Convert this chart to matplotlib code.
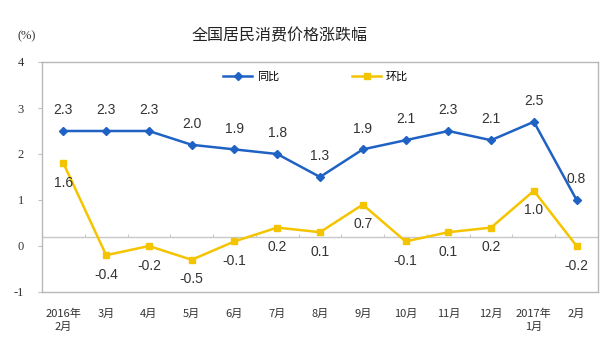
import numpy as np
import matplotlib
matplotlib.use("Agg")
import matplotlib.pyplot as plt

plt.rcParams['font.family'] = ['Noto Sans CJK SC', 'DejaVu Sans']

categories = ["2016年\n2月", "3月", "4月", "5月", "6月", "7月", "8月", "9月",
              "10月", "11月", "12月", "2017年\n1月", "2月"]
yoy = [2.3, 2.3, 2.3, 2.0, 1.9, 1.8, 1.3, 1.9, 2.1, 2.3, 2.1, 2.5, 0.8]
mom = [1.6, -0.4, -0.2, -0.5, -0.1, 0.2, 0.1, 0.7, -0.1, 0.1, 0.2, 1.0, -0.2]
ytick_labels = ["-1", "0", "1", "2", "3", "4"]

blue = '#1F62C4'
yellow = '#F5C400'

fig = plt.figure(figsize=(6.10, 3.54), dpi=100)
ax = fig.add_axes([42/610, (354-292)/354, (598-42)/610, (292-62)/354])

x = np.arange(len(categories))
ax.axhline(0, color='#c8c8c8', lw=1.0, zorder=1)
ax.vlines(np.arange(-0.5, len(categories)), 0, 0.06, color='#c8c8c8', lw=0.8, zorder=1)

ax.plot(x, yoy, color=blue, lw=1.8, marker='D', ms=4.5, label='同比', zorder=3)
ax.plot(x, mom, color=yellow, lw=1.8, marker='s', ms=5, label='环比', zorder=3)

for xi, v in zip(x, yoy):
    ax.annotate(f"{v:.1f}", (xi, v), xytext=(0, 10), textcoords='offset points',
                ha='center', va='bottom', fontsize=10, color='#333333',
                family=['Liberation Sans', 'DejaVu Sans'])
for xi, v in zip(x, mom):
    ax.annotate(f"{v:.1f}", (xi, v), xytext=(0, -9), textcoords='offset points',
                ha='center', va='top', fontsize=10, color='#333333',
                family=['Liberation Sans', 'DejaVu Sans'])

ax.set_xlim(-0.5, len(categories) - 0.5)
ax.set_ylim(-1.2, 3.8)
ax.set_yticks(np.arange(-1.2, 3.81, 1.0))
ax.set_yticklabels(ytick_labels, family=['Liberation Serif', 'DejaVu Serif'], fontsize=9, color='#333333')
ax.tick_params(axis='y', length=3, color='#c0c0c0', pad=10, direction='out')
ax.set_xticks(x)
ax.set_xticklabels(categories, fontsize=8, color='#333333', linespacing=1.3)
ax.tick_params(axis='x', length=0, pad=12)

for s in ax.spines.values():
    s.set_color('#b8b8b8')
    s.set_linewidth(1.0)

ax.legend(loc='upper left', bbox_to_anchor=(0.308, 1.0), ncol=2, frameon=False,
          fontsize=8, handlelength=2.6, columnspacing=6.6, handletextpad=0.4)

fig.text(280/610, 1 - 36/354, '全国居民消费价格涨跌幅', ha='center', va='center', fontsize=11.5, color='#222222')
fig.text(18/610, 1 - 36/354, '(%)', ha='left', va='center', fontsize=9, color='#333333',
         family=['Liberation Serif', 'DejaVu Serif'])

fig.savefig('out.png', dpi=100)
